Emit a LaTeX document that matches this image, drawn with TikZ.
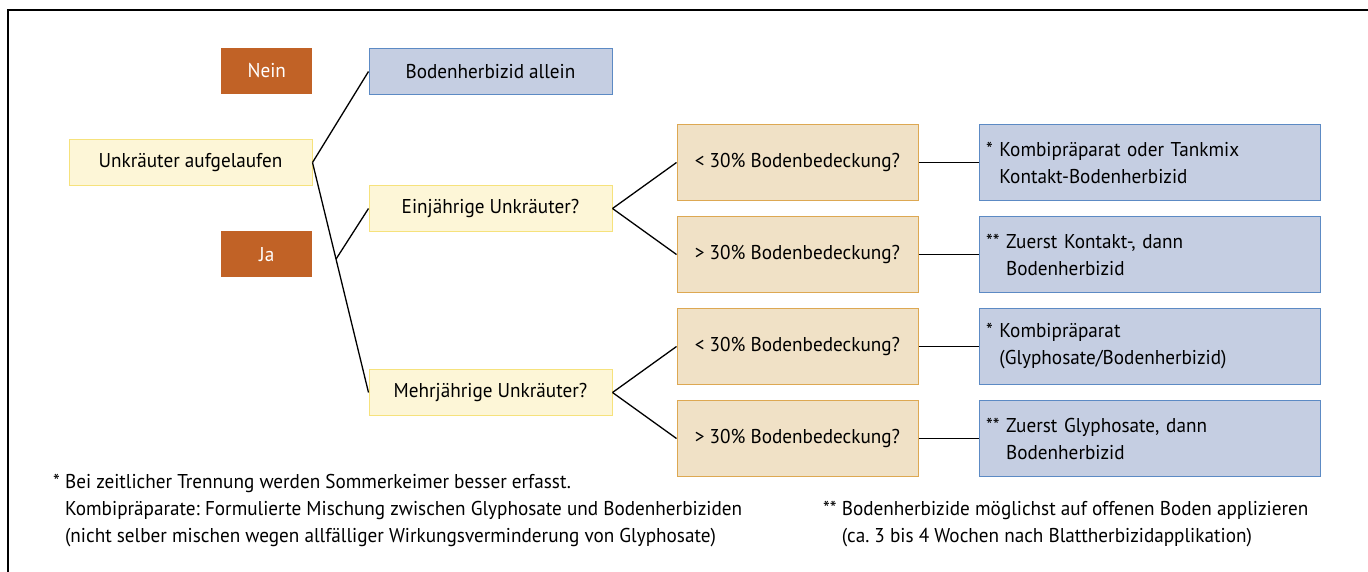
\documentclass[tikz,border=0pt]{standalone}
\usepackage{fontspec}
\setmainfont{PT Sans}[FakeStretch=0.96]
\usetikzlibrary{positioning,calc}
\definecolor{antwort}{RGB}{193,98,38}
\definecolor{frage}{RGB}{253,246,215}
\definecolor{fragerand}{RGB}{246,226,124}
\definecolor{deckung}{RGB}{240,225,198}
\definecolor{deckungrand}{RGB}{221,168,82}
\definecolor{massnahme}{RGB}{197,206,226}
\definecolor{massnahmerand}{RGB}{92,138,196}
\frenchspacing

\begin{document}
\begin{tikzpicture}[
  x=1pt,y=-1pt,
  font=\fontsize{20}{27}\selectfont,
  q/.style={rectangle,draw=fragerand,fill=frage,line width=1pt,minimum width=243pt,minimum height=46pt},
  jn/.style={rectangle,fill=antwort,text=white,minimum width=91pt,minimum height=46pt},
  c/.style={rectangle,draw=deckungrand,fill=deckung,line width=1pt,minimum width=241pt,minimum height=76pt},
  m/.style={rectangle,draw=massnahmerand,fill=massnahme,line width=1pt,minimum width=341pt,minimum height=76pt,text width=327pt,inner sep=7pt,align=left},
  a/.style={line width=1.3pt},
  fn/.style={inner sep=0pt,align=left,anchor=north west}
]
\useasboundingbox (0,0) rectangle (1368,571);
\draw[line width=1.4pt] (8,10) rectangle (1400,600);

% Bodenbedeckung
\node[c] (c1) at (797.5,162.5) {< 30\% Bodenbedeckung?};
\node[c,below=15pt of c1] (c2) {> 30\% Bodenbedeckung?};
\node[c,below=15pt of c2] (c3) {< 30\% Bodenbedeckung?};
\node[c,below=15pt of c3] (c4) {> 30\% Bodenbedeckung?};

% Massnahmen
\node[m,right=60pt of c1] (m1) {* Kombipräparat oder Tankmix\\\phantom{* }Kontakt-Bodenherbizid};
\node[m,right=60pt of c2] (m2) {** Zuerst Kontakt-, dann\\\phantom{** }Bodenherbizid};
\node[m,right=60pt of c3] (m3) {* Kombipräparat\\\phantom{* }(Glyphosate/Bodenherbizid)};
\node[m,right=60pt of c4] (m4) {** Zuerst Glyphosate, dann\\\phantom{** }Bodenherbizid};

% Unkraeuter
\coordinate (einmitte) at ($(c1.west)!0.5!(c2.west)$);
\coordinate (mehrmitte) at ($(c3.west)!0.5!(c4.west)$);
\node[q,left=64pt of einmitte] (ein) {Einjährige Unkräuter?};
\node[q,left=64pt of mehrmitte] (mehr) {Mehrjährige Unkräuter?};
\node[m,above=90pt of ein,minimum width=243pt,minimum height=46pt,text width=,align=center] (allein) {Bodenherbizid allein};
\node[q,left=364pt of c1] (start) {Unkräuter aufgelaufen};
\node[jn,above=45pt of start.north east,anchor=south east] (nein) {Nein};
\node[jn,below=45pt of start.south east,anchor=north east] (ja) {Ja};

\coordinate (gabel) at ($(start.east)!0.42!(mehr.west)$);
\draw[a] (start.east) -- (allein.west);
\draw[a] (start.east) -- (mehr.west);
\draw[a] (gabel) -- (ein.west);
\draw[a] (ein.east) -- (c1.west);
\draw[a] (ein.east) -- (c2.west);
\draw[a] (mehr.east) -- (c3.west);
\draw[a] (mehr.east) -- (c4.west);
\foreach \i in {1,...,4}
  \draw[a] (c\i.east) -- (m\i.west);

% Fussnoten
\node[fn] (fn1) at (53,474) {* Bei zeitlicher Trennung werden Sommerkeimer besser erfasst.\\\phantom{* }Kombipräparate: Formulierte Mischung zwischen Glyphosate und Bodenherbiziden\\\phantom{* }(nicht selber mischen wegen allfälliger Wirkungsverminderung von Glyphosate)};
\node[fn] (fn2) at (823,501) {** Bodenherbizide möglichst auf offenen Boden applizieren\\\phantom{** }(ca. 3 bis 4 Wochen nach Blattherbizidapplikation)};
\end{tikzpicture}
\end{document}
